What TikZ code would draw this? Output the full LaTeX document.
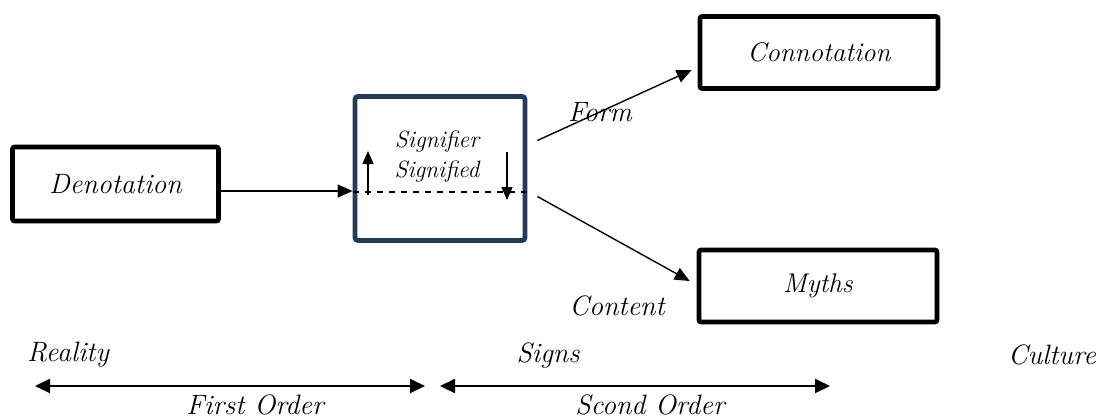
\documentclass[tikz,border=0pt]{standalone}
\usepackage{amsmath}
\usepackage[HTML]{xcolor}
\usetikzlibrary{positioning, arrows, arrows.meta}

\definecolor{signblue}{HTML}{243B57}

\tikzset{
  termbox/.style={draw, line width=2.3pt, rounded corners=1pt, minimum width=119pt, minimum height=36pt, font=\fontsize{13.5}{15}\selectfont\itshape},
  signbox/.style={draw=signblue, line width=2.4pt, rounded corners=1.5pt, minimum width=85pt, minimum height=72pt},
  lbl/.style={font=\fontsize{14}{16}\selectfont\itshape},
  arr/.style={-{Triangle[length=7.5pt,width=6.5pt]}, line width=0.7pt},
  orderarr/.style={{Triangle[length=7.5pt,width=7pt]}-{Triangle[length=7.5pt,width=7pt]}, line width=1.1pt}
}

\begin{document}
\begin{tikzpicture}[x=0.5pt, y=-0.5pt]
\useasboundingbox (0,0) rectangle (1105,419);

% boxes
\node[termbox, minimum width=103pt, minimum height=37pt, font=\fontsize{14}{16}\selectfont\itshape] (deno) at (115.5,184) {Denotation};
\node[signbox] (sign) at (440,168.5) {};
\node[termbox] (conn) at (819,52.5) {Connotation};
\node[termbox] (myth) at (818,286) {Myths};

% inside the sign
\node[align=center, font=\fontsize{11.8}{15}\selectfont\itshape] (sigtext) at (437,157) {Signifier\\Signified};
\draw[dashed, line width=0.6pt] ([yshift=-11.75pt]sign.west) -- ([yshift=-11.75pt]sign.east);
\draw[-{Triangle[length=6.5pt,width=5.5pt]}, line width=0.7pt] (368,195) -- (368,151);
\draw[-{Triangle[length=6.5pt,width=5.5pt]}, line width=0.7pt] (507,152) -- (507,200);

% connectors
\draw[arr] ([yshift=-3.5pt]deno.east) -- ([yshift=-3.5pt]deno.east -| sign.west);
\draw[arr] ([xshift=5pt, yshift=14pt]sign.east) -- ([xshift=-3pt, yshift=-8.75pt]conn.west);
\draw[arr] ([xshift=5pt, yshift=-14pt]sign.east) -- ([xshift=-3.5pt, yshift=2.5pt]myth.west);
\node[lbl] (form) at (600,112) {Form};
\node[lbl] (content) at (617,306) {Content};

% orders
\node[lbl] (reality) at (68,355) {Reality};
\node[lbl] (signs) at (548,355) {Signs};
\node[lbl] (culture) at (1052,355) {Culture};
\coordinate (o1) at (35,386);
\coordinate (o2) at (425,386);
\coordinate (o3) at (440,386);
\coordinate (o4) at (830,386);
\draw[orderarr] (o1) -- (o2);
\draw[orderarr] (o3) -- (o4);
\node[lbl] (first) at (255,405) {First Order};
\node[lbl] (second) at (650,405) {Scond Order};
\end{tikzpicture}
\end{document}
